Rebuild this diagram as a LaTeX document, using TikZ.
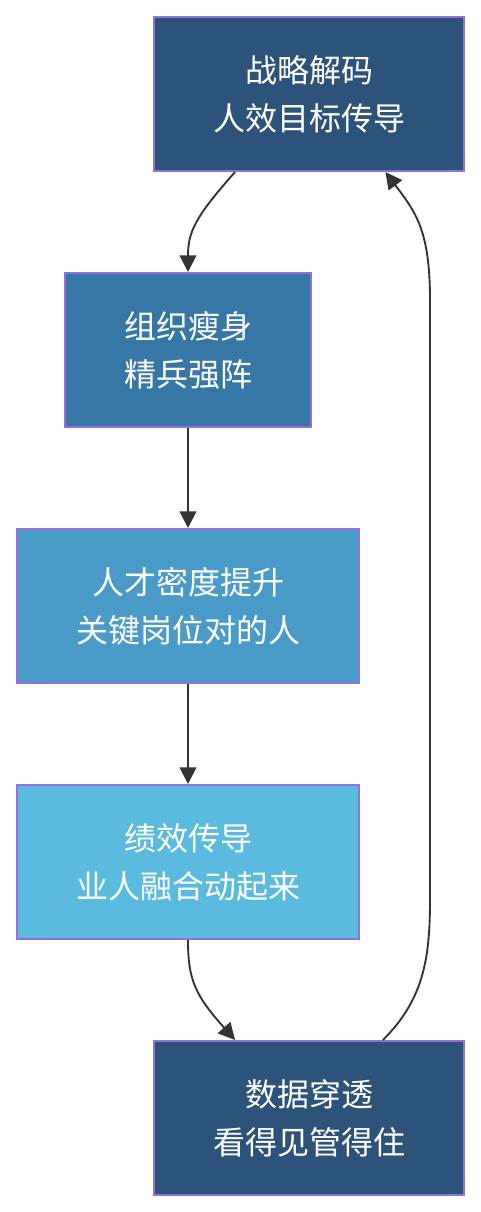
\documentclass[tikz,border=0pt]{standalone}
\usepackage{fontspec}
\newfontfamily\cjk{Noto Sans CJK SC}
\usetikzlibrary{arrows.meta,calc}
\definecolor{cdark}{HTML}{2C5379}
\definecolor{cmid}{HTML}{3777A6}
\definecolor{clight}{HTML}{4A9BC8}
\definecolor{csky}{HTML}{5BBBDF}
\definecolor{cborder}{HTML}{9370DB}
\definecolor{cline}{HTML}{333333}
\tikzset{
  px/.style={x=0.75pt,y=-0.75pt},
  stepbox/.style={draw=cborder, line width=1.5pt, text=white, align=center,
    font=\cjk\fontsize{24pt}{36pt}\selectfont, minimum height=115.5pt, inner sep=0pt},
  conn/.style={draw=cline, line width=1.4pt, -{Triangle[length=12.5pt,width=12.5pt]}}
}
\begin{document}
\begin{tikzpicture}[px]
\useasboundingbox (0,0) rectangle (481,1212);
\node[stepbox, fill=cdark, minimum width=232.5pt] (b1) at (309,94) {战略解码\\人效目标传导};
\node[stepbox, fill=cmid, minimum width=184.5pt] (b2) at (188,350) {组织瘦身\\精兵强阵};
\node[stepbox, fill=clight, minimum width=256.5pt] (b3) at (188,606) {人才密度提升\\关键岗位对的人};
\node[stepbox, fill=csky, minimum width=256.5pt] (b4) at (188,862) {绩效传导\\业人融合动起来};
\node[stepbox, fill=cdark, minimum width=232.5pt] (b5) at (309,1118) {数据穿透\\看得见管得住};
\coordinate (s1) at ($(b1.south west)!0.263!(b1.south east)$);
\coordinate (n5) at ($(b5.north west)!0.263!(b5.north east)$);
\coordinate (r5) at ($(b5.north west)!0.737!(b5.north east)$);
\coordinate (r1) at ($(b1.south west)!0.745!(b1.south east)$);
\draw[conn] (s1) .. controls +(-40,45) and +(0,-40) .. (b2.north);
\draw[conn] (b2) -- (b3);
\draw[conn] (b3) -- (b4);
\draw[conn] (b4.south) .. controls +(0,40) and +(-40,-45) .. (n5);
\draw[conn] (r5) .. controls +(40,-40) and +(0,60) .. (430,900) -- (430,300) .. controls +(0,-70) and +(30,40) .. (r1);
\end{tikzpicture}
\end{document}
